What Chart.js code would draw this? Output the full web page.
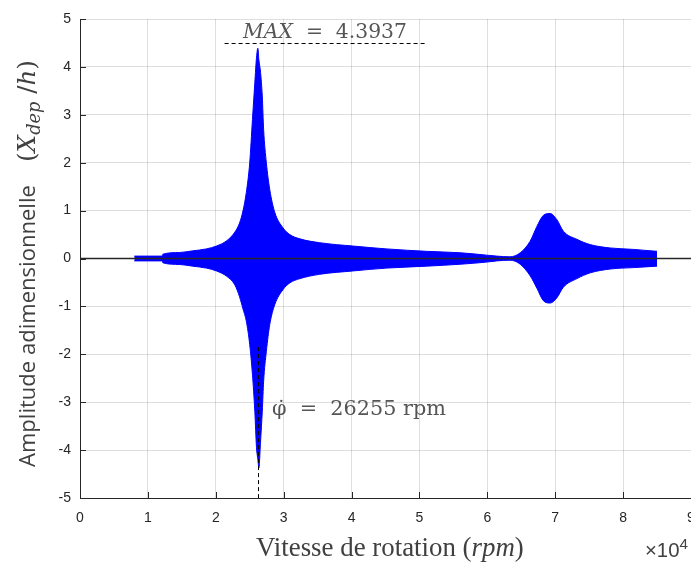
<!DOCTYPE html>
<html>
<head>
<meta charset="utf-8">
<script src="https://cdn.jsdelivr.net/npm/chart.js@4"></script>
<style>
  html, body { margin: 0; padding: 0; background: #fff; }
  canvas { display: block; }
</style>
</head>
<body>
<canvas id="chart" width="691" height="563"></canvas>
<script>
// Envelope of the response (rpm / amplitude)
const rpm = [8000, 12100, 12200, 14650, 16600, 18600, 20100, 21600, 22800, 23500,
  24000, 24500, 25000, 25400, 25750, 26000, 26200, 26350, 26600, 26850,
  27050, 27450, 27950, 28700, 29900, 30900, 32400, 35300, 40200, 45200,
  51050, 56000, 59900, 61400, 63350, 64850, 66300, 67300, 68250, 69250,
  70250, 71200, 73200, 75150, 78100, 81550, 85000];
const upper = [0.05, 0.05, 0.09, 0.125, 0.16, 0.2, 0.26, 0.37, 0.55, 0.74,
  0.99, 1.38, 2.0, 2.9, 3.67, 4.2, 4.39, 4.15, 3.88, 3.39,
  2.69, 2.0, 1.44, 0.96, 0.64, 0.5, 0.41, 0.33, 0.26, 0.2,
  0.15, 0.12, 0.07, 0.05, 0.035, 0.12, 0.36, 0.67, 0.9, 0.94,
  0.81, 0.57, 0.40, 0.29, 0.22, 0.19, 0.15];
const lower = [-0.05, -0.05, -0.09, -0.125, -0.16, -0.2, -0.26, -0.37, -0.55, -0.8,
  -1.05, -1.31, -1.8, -2.42, -3.19, -3.95, -4.2, -4.37, -3.81, -3.19,
  -2.56, -1.94, -1.38, -0.96, -0.65, -0.51, -0.42, -0.33, -0.26, -0.2,
  -0.16, -0.12, -0.075, -0.05, -0.035, -0.12, -0.36, -0.62, -0.88, -0.93,
  -0.82, -0.6, -0.42, -0.3, -0.22, -0.19, -0.16];

const xTickLabels = ['0', '1', '2', '3', '4', '5', '6', '7', '8', '9'];   // x 10^4
const yTickLabels = ['-5', '-4', '-3', '-2', '-1', '0', '1', '2', '3', '4', '5'];

const maxValue = '4.3937';
const peakSpeed = 26255;

// annotation guides (data units)
const maxLineFrom = 21300, maxLineTo = 51100, maxLineLevel = 4.49;
const speedLineTop = -1.85;

// draw a row of text pieces; if width is given the row is sized to fit it
function drawRow(ctx, parts, x0, base, width, size0) {
  const font = (p, s) => `${p.style || ''} ${s * (p.scale || 1)}px ${p.family}`;
  let size = size0 || 20;
  if (width) {
    let w = 0;
    parts.forEach(p => { ctx.font = font(p, 20); w += ctx.measureText(p.t).width; });
    size = 20 * width / w;
  }
  let x = x0;
  parts.forEach(p => {
    ctx.font = font(p, size);
    ctx.fillText(p.t, x, base + (p.shift || 0) * size);
    x += ctx.measureText(p.t).width;
  });
}

const SERIF = '"Liberation Serif"';
const MATH = '"DejaVu Serif"';

const overlay = {
  id: 'overlay',
  afterDatasetsDraw(chart) {
    const { ctx, chartArea: a, scales: { x, y } } = chart;
    ctx.save();
    // inward tick marks, matlab style
    ctx.strokeStyle = '#262626';
    ctx.lineWidth = 1;
    ctx.beginPath();
    x.ticks.forEach(t => {
      const px = Math.round(x.getPixelForValue(t.value)) + 0.5;
      ctx.moveTo(px, a.bottom); ctx.lineTo(px, a.bottom - 6);
    });
    y.ticks.forEach(t => {
      const py = Math.round(y.getPixelForValue(t.value)) + 0.5;
      ctx.moveTo(a.left, py); ctx.lineTo(a.left + 6, py);
    });
    ctx.stroke();

    // dashed guides
    ctx.strokeStyle = '#000';
    ctx.setLineDash([4, 3]);
    ctx.beginPath();
    const ly = Math.round(y.getPixelForValue(maxLineLevel)) + 0.5;
    ctx.moveTo(x.getPixelForValue(maxLineFrom), ly);
    ctx.lineTo(x.getPixelForValue(maxLineTo), ly);
    const sx = Math.round(x.getPixelForValue(peakSpeed)) + 0.5;
    ctx.moveTo(sx, y.getPixelForValue(speedLineTop));
    ctx.lineTo(sx, a.bottom);
    ctx.stroke();
    ctx.restore();
  },
  afterDraw(chart) {
    const { ctx } = chart;
    ctx.save();
    ctx.textBaseline = 'alphabetic';
    ctx.textAlign = 'left';

    // annotations
    ctx.fillStyle = '#555';
    drawRow(ctx, [
      { t: 'MAX', family: MATH, style: 'italic' },
      { t: '  =  ' + maxValue, family: MATH }
    ], 243, 38, 164);
    drawRow(ctx, [
      { t: '\u03C6\u0307  =  ' + peakSpeed + ' rpm', family: MATH }
    ], 272, 415, 174);

    // x axis title
    ctx.fillStyle = '#404040';
    drawRow(ctx, [
      { t: 'Vitesse de rotation (', family: SERIF },
      { t: 'rpm', family: SERIF, style: 'italic' },
      { t: ')', family: SERIF }
    ], 256, 556, 268);

    // exponent
    drawRow(ctx, [
      { t: '\u00D710', family: '"Liberation Sans"' },
      { t: '4', family: '"Liberation Sans"', scale: 0.75, shift: -0.4 }
    ], 645, 557, 43);

    // y axis title (rotated)
    ctx.translate(35, 0);
    ctx.rotate(-Math.PI / 2);
    drawRow(ctx, [
      { t: 'Amplitude adimensionnelle', family: '"Open Sans"' }
    ], -467, 0, 282);
    drawRow(ctx, [
      { t: '(', family: MATH },
      { t: 'X', family: MATH, style: 'italic' },
      { t: 'dep', family: MATH, style: 'italic', scale: 0.72, shift: 0.22 },
      { t: ' /', family: MATH },
      { t: 'h', family: MATH, style: 'italic' },
      { t: ')', family: MATH }
    ], -162, 0, 102);
    ctx.restore();
  }
};

const pts = vals => rpm.map((r, i) => ({ x: r, y: vals[i] }));

new Chart(document.getElementById('chart'), {
  type: 'line',
  data: {
    datasets: [
      {
        label: 'upper',
        data: pts(upper),
        borderColor: '#0000ff',
        backgroundColor: '#0000ff',
        borderWidth: 1,
        pointRadius: 0,
        cubicInterpolationMode: 'monotone',
        fill: '+1',
        order: 1
      },
      {
        label: 'lower',
        data: pts(lower),
        borderColor: '#0000ff',
        borderWidth: 1,
        pointRadius: 0,
        cubicInterpolationMode: 'monotone',
        fill: false,
        order: 1
      },
      {
        label: 'zero',
        data: [{ x: 0, y: 0 }, { x: 90000, y: 0 }],
        borderColor: '#262626',
        borderWidth: 1.5,
        pointRadius: 0,
        fill: false,
        order: 0
      }
    ]
  },
  options: {
    responsive: false,
    animation: false,
    devicePixelRatio: 1,
    layout: { padding: { top: 19, right: 0, bottom: 0, left: 0 } },
    plugins: {
      legend: { display: false },
      tooltip: { enabled: false }
    },
    scales: {
      x: {
        type: 'linear',
        min: 0,
        max: 90000,
        afterBuildTicks: s => { s.ticks = xTickLabels.map((_, i) => ({ value: i * 10000 })); },
        afterFit: s => { s.height = 65; s.paddingLeft = 0; s.paddingRight = 0; },
        grid: { color: 'rgba(0,0,0,0.13)', drawTicks: false },
        border: { color: '#262626', width: 1 },
        ticks: {
          padding: 12,
          maxRotation: 0,
          color: '#262626',
          font: { family: '"Liberation Sans"', size: 14 },
          callback: (v, i) => xTickLabels[i]
        }
      },
      y: {
        min: -5,
        max: 5,
        afterBuildTicks: s => { s.ticks = yTickLabels.map(l => ({ value: Number(l) })); },
        afterFit: s => { s.width = 80; s.paddingTop = 0; s.paddingBottom = 0; },
        grid: { color: 'rgba(0,0,0,0.13)', drawTicks: false },
        border: { color: '#262626', width: 1 },
        ticks: {
          padding: 9,
          color: '#262626',
          font: { family: '"Liberation Sans"', size: 14 },
          callback: (v, i) => yTickLabels[i]
        }
      }
    }
  },
  plugins: [overlay]
});
</script>
</body>
</html>
